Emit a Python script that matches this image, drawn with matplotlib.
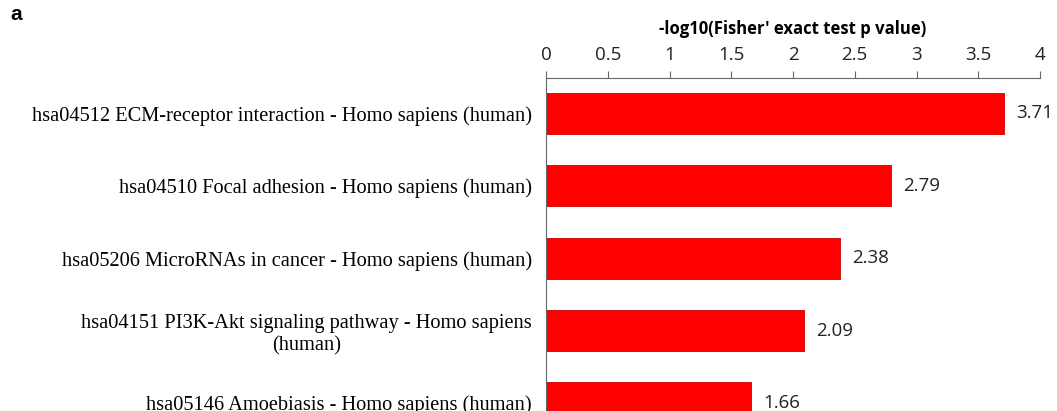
import matplotlib.pyplot as plt

pathways = [
    'hsa04512 ECM-receptor interaction - Homo sapiens (human)',
    'hsa04510 Focal adhesion - Homo sapiens (human)',
    'hsa05206 MicroRNAs in cancer - Homo sapiens (human)',
    'hsa04151 PI3K-Akt signaling pathway - Homo sapiens\n(human)',
    'hsa05146 Amoebiasis - Homo sapiens (human)',
]
scores = [3.71, 2.79, 2.38, 2.09, 1.66]
ticks = [0, 0.5, 1, 1.5, 2, 2.5, 3, 3.5, 4]
tick_labels = ['0', '0.5', '1', '1.5', '2', '2.5', '3', '3.5', '4']

fig = plt.figure(figsize=(10.57, 4.11), dpi=100)
ax = fig.add_axes([546 / 1057, 0, (1040 - 546) / 1057, 1 - 78 / 411])

pos = list(range(len(pathways)))
ax.barh(pos, scores, height=0.57, color='#ff0000', edgecolor='#d00000', linewidth=0.6)

for p, v in zip(pos, scores):
    ax.text(v + 0.1, p, f'{v:.2f}', va='center', ha='left',
            fontsize=13.5, family='Open Sans', color='#222222')

ax.set_xlim(0, 4)
ax.set_ylim(4.11, -0.49)
ax.xaxis.tick_top()
ax.xaxis.set_label_position('top')
ax.set_xticks(ticks)
ax.set_xticklabels(tick_labels, family='Open Sans', fontsize=13.5, color='#222222')
ax.tick_params(axis='x', direction='out', length=5, width=0.8, color='#666666', pad=5)
ax.set_xlabel("-log10(Fisher' exact test p value)", family='Open Sans',
              fontweight='bold', fontsize=12, labelpad=9)

ax.set_yticks(pos)
ax.set_yticklabels(pathways, family='Liberation Serif', fontsize=14.7,
                   multialignment='center')
ax.tick_params(axis='y', length=0, pad=10)

ax.spines['right'].set_visible(False)
ax.spines['bottom'].set_visible(False)
ax.spines['top'].set_color('#666666')
ax.spines['left'].set_color('#666666')

fig.text(10 / 1057, 1 - 14 / 411, 'a', fontweight='bold', fontsize=15,
         family='Liberation Sans', va='center')

fig.savefig('out.png', dpi=100)
